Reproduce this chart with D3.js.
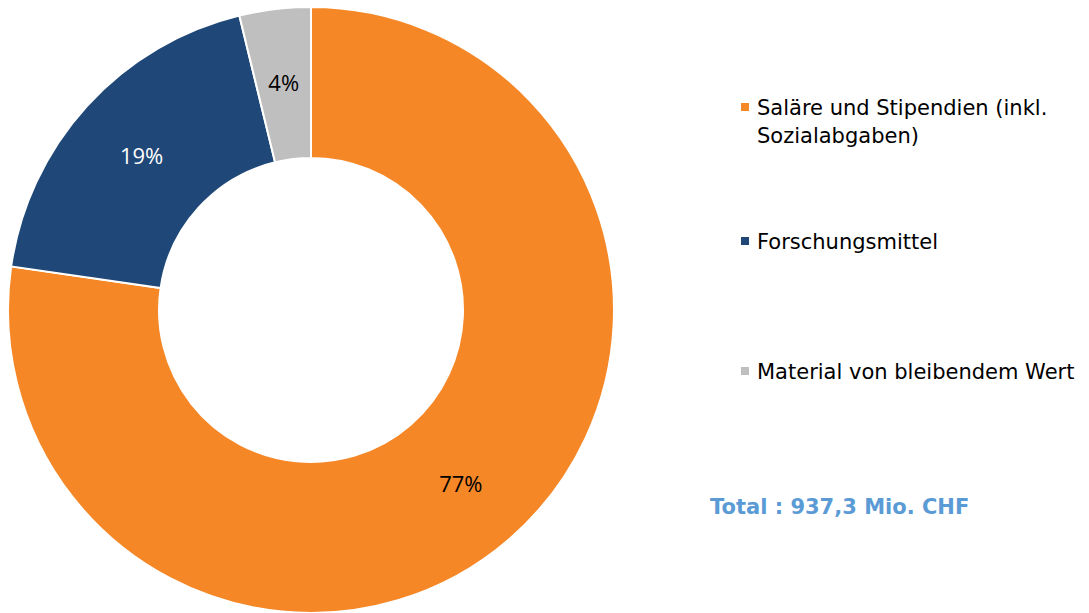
<!DOCTYPE html>
<html><head><meta charset="utf-8">
<script src="https://cdn.jsdelivr.net/npm/d3@7"></script>
<style>body{margin:0;background:#fff}</style>
</head><body>
<svg id="c" width="1089" height="613"></svg>
<script>
const categories = ["Saläre und Stipendien (inkl. Sozialabgaben)", "Forschungsmittel", "Material von bleibendem Wert"];
const legendLines = [["Saläre und Stipendien (inkl.", "Sozialabgaben)"], ["Forschungsmittel"], ["Material von bleibendem Wert"]];
const values = [77.3, 18.9, 3.8];
const labels = ["77%", "19%", "4%"];
const colors = ["#F58727", "#1F4878", "#BFBFBF"];
const labelColors = ["#000000", "#ffffff", "#000000"];
const totalText = "Total : 937,3 Mio. CHF";

const svg = d3.select("#c");
const cx = 311, cy = 310, R = 303, r = 152;
const pie = d3.pie().sort(null).value(d => d);
const arcs = pie(values);
const arc = d3.arc().innerRadius(r).outerRadius(R);
const labelArc = d3.arc().innerRadius(229).outerRadius(229);
const g = svg.append("g").attr("transform", `translate(${cx},${cy})`);
g.selectAll("path").data(arcs).join("path")
  .attr("d", arc).attr("fill", (d,i) => colors[i])
  .attr("stroke", "#fff").attr("stroke-width", 2);
g.selectAll("text").data(arcs).join("text")
  .attr("transform", d => `translate(${labelArc.centroid(d)})`)
  .attr("text-anchor", "middle").attr("dy", "0.38em")
  .attr("font-family", "Open Sans, sans-serif").attr("font-size", 22)
  .attr("fill", (d,i) => labelColors[i])
  .text((d,i) => labels[i]);

const legY = [107, 241, 371];
const lg = svg.append("g");
categories.forEach((c, i) => {
  lg.append("rect").attr("x", 741).attr("y", legY[i] - 4).attr("width", 8).attr("height", 8).attr("fill", colors[i]);
  legendLines[i].forEach((t, j) => {
    lg.append("text").attr("x", 757).attr("y", legY[i] + j * 28).attr("dy", "0.36em")
      .attr("font-family", "DejaVu Sans, Verdana, sans-serif").attr("font-size", 21)
      .attr("fill", "#000").text(t);
  });
});
svg.append("text").attr("x", 710).attr("y", 506).attr("dy", "0.36em")
  .attr("font-family", "DejaVu Sans, Verdana, sans-serif").attr("font-size", 21).attr("font-weight", "bold")
  .attr("fill", "#5B9BD5").text(totalText);
</script>
</body></html>
